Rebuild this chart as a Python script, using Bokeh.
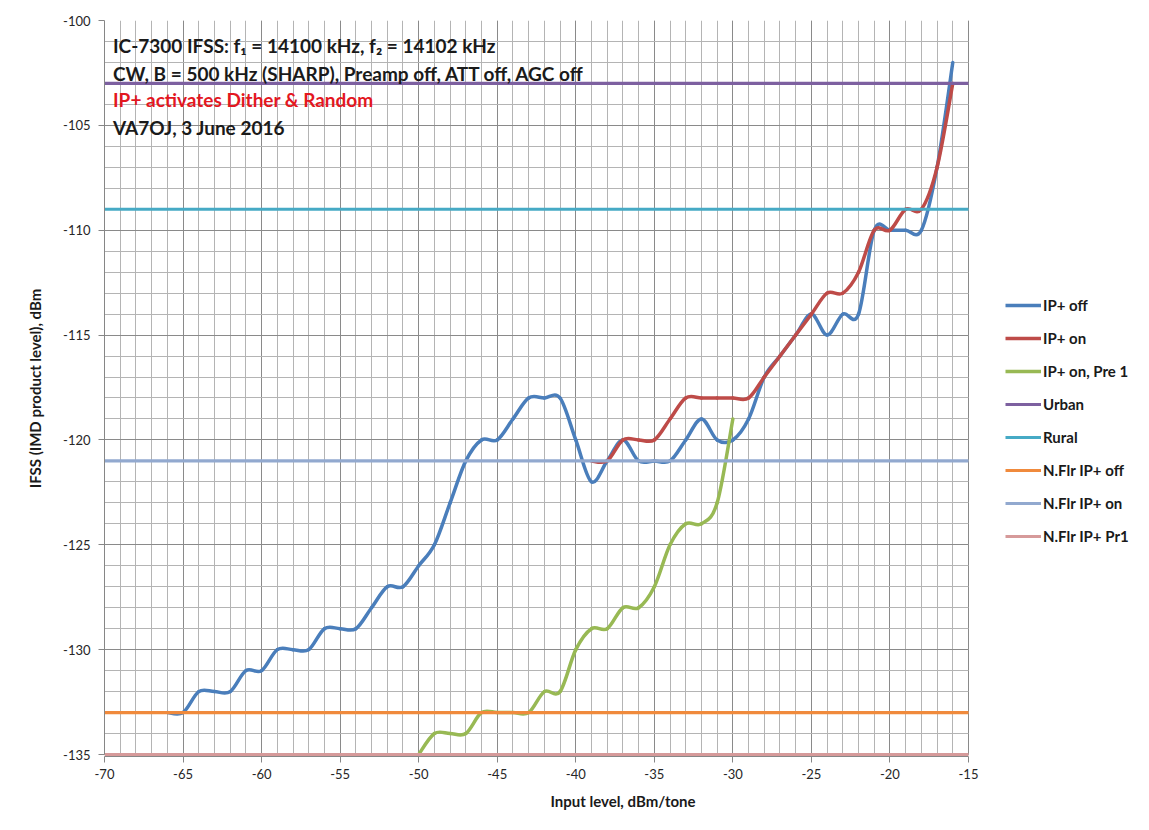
import numpy as np
from bokeh.plotting import figure
from bokeh.models import (Legend, LegendItem, Label, SingleIntervalTicker,
                          Range1d, ColumnDataSource, CustomJSTickFormatter)
from bokeh.embed import file_html
from bokeh.resources import INLINE

# ---------------- data ----------------
x_limits = [-70, -15]
y_limits = [-135, -100]

ip_off_x = list(range(-66, -15))
ip_off_y = [-133, -133, -132, -132, -132, -131, -131, -130, -130, -130,
            -129, -129, -129, -128, -127, -127, -126, -125, -123, -121,
            -120, -120, -119, -118, -118, -118, -120, -122, -121, -120,
            -121, -121, -121, -120, -119, -120, -120, -119, -117, -116,
            -115, -114, -115, -114, -114, -110, -110, -110, -110, -107,
            -102]

ip_on_x = list(range(-39, -15))
ip_on_y = [-121, -121, -120, -120, -120, -119, -118, -118, -118, -118,
           -118, -117, -116, -115, -114, -113, -113, -112, -110, -110,
           -109, -109, -107, -103]

pre1_x = list(range(-50, -29))
pre1_y = [-135, -134, -134, -134, -133, -133, -133, -133, -132, -132,
          -130, -129, -129, -128, -128, -127, -125, -124, -124, -123,
          -119]

urban = -103
rural = -109
nflr_off = -133
nflr_on = -121
nflr_pr1 = -135

series_names = ["IP+ off", "IP+ on", "IP+ on, Pre 1", "Urban", "Rural",
                "N.Flr IP+ off", "N.Flr IP+ on", "N.Flr IP+ Pr1"]
colors = ["#4A7EBB", "#BE4B48", "#98B954", "#7D60A0", "#46AAC5",
          "#F08A3C", "#92A9CF", "#D69A9A"]

notes = ["IC-7300 IFSS: f\u2081 = 14100 kHz, f\u2082 = 14102 kHz",
         "CW, B = 500 kHz (SHARP), Preamp off, ATT off, AGC off",
         "IP+ activates Dither & Random",
         "VA7OJ, 3 June 2016"]
note_y = [-101.19, -102.52, -103.76, -105.12]
note_colors = ["#1a1a1a", "#1a1a1a", "#E3171F", "#1a1a1a"]


def smooth_source(xs, ys):
    """Excel-like smoothed line: Bezier control points from neighbours."""
    P = np.column_stack([xs, ys]).astype(float)
    Pm = np.vstack([P[:1], P, P[-1:]])
    p0 = Pm[1:-2]
    p1 = Pm[2:-1]
    prev = Pm[:-3]
    nxt = Pm[3:]
    c0 = p0 + (p1 - prev) / 6.0
    c1 = p1 - (nxt - p0) / 6.0
    return ColumnDataSource(dict(x0=p0[:, 0], y0=p0[:, 1], x1=p1[:, 0], y1=p1[:, 1],
                                 cx0=c0[:, 0], cy0=c0[:, 1], cx1=c1[:, 0], cy1=c1[:, 1]))


FONT = "Lato"

# frame layout: the data area (-70..-15) is 864 px wide; the frame is
# extended to the right so that the legend (placed in the frame) is not clipped
FRAME_W = 1037
PLOT_W = 864
FRAME_H = 736
PLOT_H = 734
x_view_end = x_limits[0] + FRAME_W * (x_limits[1] - x_limits[0]) / PLOT_W
y_view_start = y_limits[1] - FRAME_H * (y_limits[1] - y_limits[0]) / PLOT_H

p = figure(width=1145, height=828, output_backend="svg", toolbar_location=None,
           x_range=Range1d(x_limits[0], x_view_end),
           y_range=Range1d(y_view_start, y_limits[1]),
           min_border_left=104, min_border_right=4, min_border_top=20,
           min_border_bottom=72)
p.background_fill_color = "white"
p.border_fill_color = "white"
p.outline_line_color = None

xt = SingleIntervalTicker(interval=5, num_minor_ticks=5)
yt = SingleIntervalTicker(interval=5, num_minor_ticks=5)
p.xaxis.ticker = xt
p.yaxis.ticker = yt
p.xgrid.ticker = xt
p.ygrid.ticker = yt
p.xaxis.bounds = tuple(x_limits)
p.yaxis.bounds = tuple(y_limits)
p.xgrid.bounds = tuple(x_limits)
p.xgrid.cross_bounds = tuple(y_limits)
p.ygrid.bounds = tuple(y_limits)
p.ygrid.cross_bounds = tuple(x_limits)
for g in (p.xgrid, p.ygrid):
    g.grid_line_color = "#8a8a8a"
    g.grid_line_width = 1
    g.minor_grid_line_color = "#b4b4b4"
    g.minor_grid_line_width = 1

fmt = CustomJSTickFormatter(code="return tick.toFixed(0);")
for ax in (p.xaxis, p.yaxis):
    ax.formatter = fmt
    ax.axis_line_color = "#868686"
    ax.major_tick_line_color = "#868686"
    ax.major_tick_out = 6
    ax.major_tick_in = 0
    ax.minor_tick_out = 0
    ax.minor_tick_in = 0
    ax.major_label_text_font = FONT
    ax.major_label_text_font_size = "13px"
    ax.major_label_text_color = "#262626"
    ax.axis_label_text_font = FONT
    ax.axis_label_text_font_style = "bold"
    ax.axis_label_text_font_size = "15px"
    ax.axis_label_text_color = "#1a1a1a"
p.xaxis.axis_label = "Input level, dBm/tone"
p.yaxis.axis_label = "IFSS (IMD product level), dBm"
p.xaxis.major_label_standoff = 6
p.xaxis.axis_label_standoff = 10
p.yaxis.major_label_standoff = 8
p.yaxis.axis_label_standoff = 16

# curves (drawn in Excel series order)
curve_data = [(ip_off_x, ip_off_y), (ip_on_x, ip_on_y), (pre1_x, pre1_y)]
legend_renderers = []
nan = float("nan")
for (xs, ys), c in zip(curve_data, colors[:3]):
    p.bezier(x0="x0", y0="y0", x1="x1", y1="y1", cx0="cx0", cy0="cy0",
             cx1="cx1", cy1="cy1", source=smooth_source(xs, ys),
             line_color=c, line_width=3.5, line_cap="round")
    legend_renderers.append(p.line(x=[nan], y=[nan], line_color=c, line_width=3.5))

levels = [urban, rural, nflr_off, nflr_on, nflr_pr1]
for lvl, c in zip(levels, colors[3:]):
    r = p.line(x=x_limits, y=[lvl, lvl], line_color=c, line_width=3.2)
    legend_renderers.append(r)

items = [LegendItem(label=n, renderers=[r]) for n, r in zip(series_names, legend_renderers)]
legend = Legend(items=items, location=(901, 210), padding=0, margin=0,
                spacing=13, glyph_width=36, glyph_height=20, label_height=20,
                label_standoff=2, label_text_font=FONT, label_text_font_style="bold",
                label_text_font_size="15px", label_text_color="#1a1a1a",
                border_line_alpha=0, background_fill_alpha=0)
p.add_layout(legend, "center")

for t, yv, c in zip(notes, note_y, note_colors):
    p.add_layout(Label(x=-69.46, y=yv, text=t, text_font=FONT,
                       text_font_style="bold", text_font_size="19px",
                       text_baseline="middle", text_color=c))

open("out.html", "w").write(file_html(p, INLINE))
